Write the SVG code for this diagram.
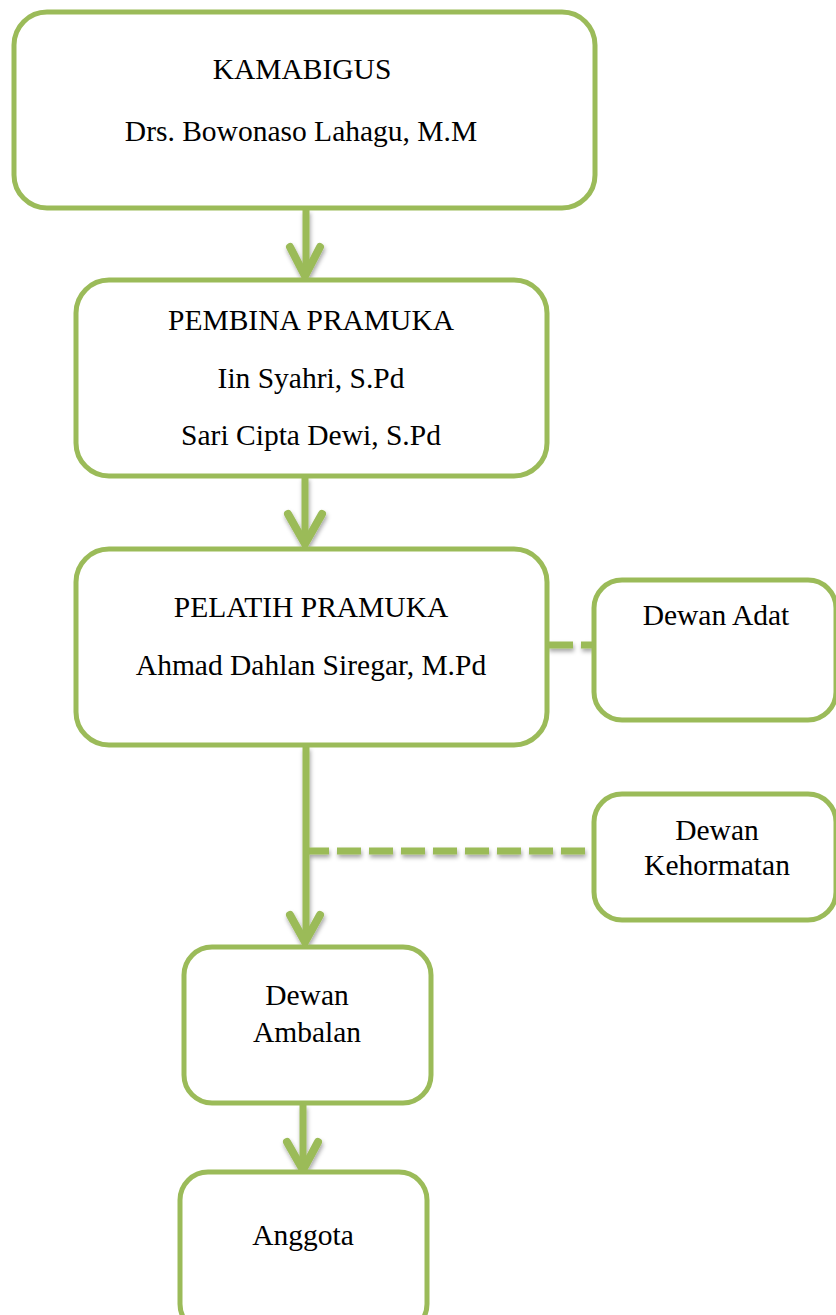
<svg xmlns="http://www.w3.org/2000/svg" width="836" height="1315" viewBox="0 0 836 1315">
<style>
.box{fill:#fff;stroke:#9BBB59;stroke-width:5}
.t{font-family:"Liberation Serif","Times New Roman",serif;font-size:29.5px;fill:#000;text-anchor:middle}
.ln{fill:none;stroke:#9BBB59;stroke-width:7;stroke-linecap:butt}
.hd{fill:none;stroke:#9BBB59;stroke-width:8;stroke-linecap:round;stroke-linejoin:miter}
.ds{fill:none;stroke:#9BBB59;stroke-width:7;stroke-dasharray:24 8}
</style>
<defs>
<filter id="sh" x="-20%" y="-20%" width="140%" height="140%">
<feDropShadow dx="1" dy="3" stdDeviation="2" flood-color="#000" flood-opacity="0.35"/>
</filter>
</defs>
<rect width="836" height="1315" fill="#fff"/>
<g id="connectors" filter="url(#sh)">
<line class="ln" x1="306" y1="210" x2="306" y2="275"/>
<polyline class="hd" points="290,247 305,276 320,247"/>
<line class="ln" x1="305" y1="477" x2="305" y2="543"/>
<polyline class="hd" points="288,514 305,544 322,514"/>
<line class="ln" x1="306" y1="747" x2="306" y2="940"/>
<polyline class="hd" points="290,915 305,942 320,915"/>
<line class="ln" x1="303" y1="1105" x2="303" y2="1168"/>
<polyline class="hd" points="287,1142 303,1170 318,1142"/>
<line class="ds" x1="305" y1="851" x2="589" y2="851"/>
<line class="ds" x1="548" y1="645" x2="593" y2="645" style="stroke-dasharray:25 8"/>
</g>
<g id="kamabigus">
<rect class="box" x="14" y="12" width="581" height="196" rx="33"/>
<text class="t" x="302" y="79">KAMABIGUS</text>
<text class="t" x="301" y="141">Drs. Bowonaso Lahagu, M.M</text>
</g>
<g id="pembina">
<rect class="box" x="76" y="280" width="471" height="196" rx="33"/>
<text class="t" x="311" y="330">PEMBINA PRAMUKA</text>
<text class="t" x="311" y="388">Iin Syahri, S.Pd</text>
<text class="t" x="311" y="445">Sari Cipta Dewi, S.Pd</text>
</g>
<g id="pelatih">
<rect class="box" x="76" y="549" width="471" height="196" rx="33"/>
<text class="t" x="311" y="617">PELATIH PRAMUKA</text>
<text class="t" x="311" y="675">Ahmad Dahlan Siregar, M.Pd</text>
</g>
<g id="dewan-adat">
<rect class="box" x="594" y="580" width="242" height="140" rx="28"/>
<text class="t" x="716" y="625">Dewan Adat</text>
</g>
<g id="dewan-kehormatan">
<rect class="box" x="594" y="794" width="242" height="126" rx="28"/>
<text class="t" x="717" y="840">Dewan</text>
<text class="t" x="717" y="875">Kehormatan</text>
</g>
<g id="dewan-ambalan">
<rect class="box" x="184" y="947" width="247" height="156" rx="28"/>
<text class="t" x="307" y="1005">Dewan</text>
<text class="t" x="307" y="1042">Ambalan</text>
</g>
<g id="anggota">
<rect class="box" x="180" y="1172" width="247" height="160" rx="28"/>
<text class="t" x="303" y="1245">Anggota</text>
</g>
</svg>
